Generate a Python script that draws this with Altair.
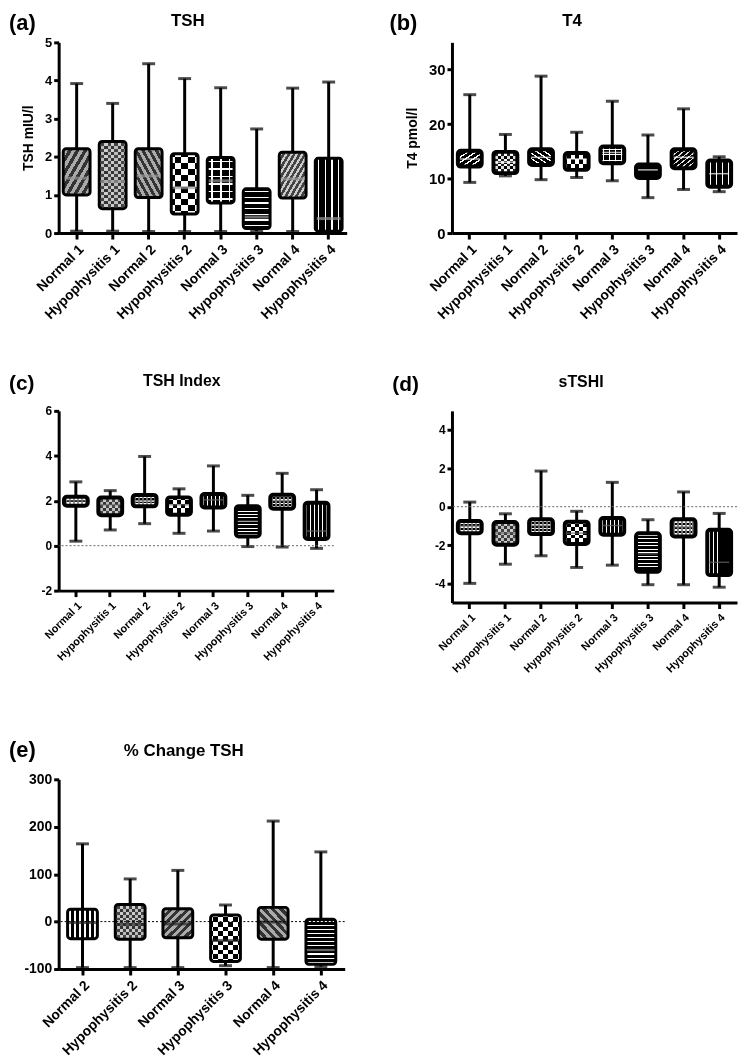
import altair as alt
import pandas as pd

GROUPS8 = ["Normal 1", "Hypophysitis 1", "Normal 2", "Hypophysitis 2",
           "Normal 3", "Hypophysitis 3", "Normal 4", "Hypophysitis 4"]
GROUPS6 = GROUPS8[2:]

# (a) TSH mIU/l : min, Q1, median, Q3, max
TSH_LO = [0.05, 0.05, 0.04, 0.04, 0.04, 0.05, 0.04, 0.02]
TSH_Q1 = [1.00, 0.64, 0.93, 0.50, 0.79, 0.12, 0.92, 0.05]
TSH_MED = [1.44, 1.35, 1.50, 1.19, 1.37, 0.42, 1.42, 0.38]
TSH_Q3 = [2.21, 2.40, 2.21, 2.08, 1.98, 1.16, 2.12, 1.96]
TSH_HI = [3.92, 3.40, 4.44, 4.05, 3.81, 2.73, 3.80, 3.96]

# (b) T4 pmol/l
T4_LO = [9.3, 10.5, 9.8, 10.2, 9.6, 6.5, 8.0, 7.6]
T4_Q1 = [12.2, 11.0, 12.5, 11.6, 12.8, 10.1, 11.9, 8.5]
T4_MED = [13.6, 13.0, 13.9, 13.6, 14.8, 11.6, 13.9, 10.9]
T4_Q3 = [15.1, 14.9, 15.4, 14.7, 15.9, 12.6, 15.4, 13.3]
T4_HI = [25.4, 18.1, 28.8, 18.5, 24.2, 18.0, 22.8, 14.0]

# (c) TSH Index
TI_LO = [0.20, 0.70, 0.98, 0.55, 0.65, -0.04, -0.06, -0.12]
TI_Q1 = [1.78, 1.35, 1.75, 1.38, 1.70, 0.41, 1.64, 0.30]
TI_MED = [2.00, 1.82, 2.00, 1.82, 2.04, 1.09, 2.00, 0.65]
TI_Q3 = [2.18, 2.14, 2.26, 2.15, 2.30, 1.76, 2.27, 1.91]
TI_HI = [2.84, 2.45, 3.97, 2.53, 3.55, 2.24, 3.22, 2.49]

# (d) sTSHI
ST_LO = [-4.00, -3.00, -2.56, -3.17, -3.05, -4.07, -4.07, -4.20]
ST_Q1 = [-1.38, -1.99, -1.43, -1.95, -1.46, -3.40, -1.55, -3.57]
ST_MED = [-1.01, -1.38, -0.98, -1.38, -0.98, -2.46, -1.06, -2.90]
ST_Q3 = [-0.75, -0.80, -0.66, -0.78, -0.59, -1.39, -0.66, -1.20]
ST_HI = [0.24, -0.37, 1.86, -0.24, 1.27, -0.68, 0.77, -0.35]

# (e) % Change TSH
PC_LO = [-97, -97, -97, -93, -97, -95]
PC_Q1 = [-36, -37, -34, -84, -37, -90]
PC_MED = [-2, -6, -5, -40, -1, -60]
PC_Q3 = [26, 36, 27, 14, 30, 5]
PC_HI = [164, 90, 108, 35, 212, 147]

FONT = "Liberation Sans"
TRANSP = "rgba(255,255,255,0)"

DIRS = {"h": (0, 0, 0, 1), "v": (0, 0, 1, 0), "/": (0, 0, 1, 1), "\\": (1, 0, 0, 1)}


def stops(c1, c2, n, f):
    w = (1 - f) / n
    out = [{"offset": 0, "color": c1}]
    for i in range(n):
        c = (i + 0.5) / n
        a = round(max(c - w / 2, 0), 4)
        b = round(min(c + w / 2, 1), 4)
        out += [{"offset": a, "color": c1}, {"offset": a, "color": c2},
                {"offset": b, "color": c2}, {"offset": b, "color": c1}]
    out.append({"offset": 1, "color": c1})
    return out


def grad(d, c1, c2, n, f):
    x1, y1, x2, y2 = DIRS[d]
    return {"gradient": "linear", "x1": x1, "y1": y1, "x2": x2, "y2": y2,
            "stops": stops(c1, c2, n, f)}


def pattern_fills(spec, w, h):
    kind = spec[0]
    if kind == "solid":
        return [(spec[1], None)]
    if kind in ("h", "v"):
        _, c1, c2, p, f = spec
        L = h if kind == "h" else w
        n = max(1, round(L / p))
        return [(grad(kind, c1, c2, n, f), None)]
    if kind.startswith("diag"):
        _, c1, c2, p, f = spec
        n = max(2, round((w + h) / (1.414 * p)))
        d = "/" if kind == "diag/" else "\\"
        return [(grad(d, c1, c2, n, f), None)]
    if kind == "checker":
        _, c1, c2, cell = spec
        nv = max(1, round(w / (2 * cell)))
        nh = max(1, round(h / (2 * cell)))
        return [(grad("v", c1, c2, nv, 0.5), None),
                (grad("h", TRANSP, "white", nh, 0.5), "difference")]
    if kind == "grid":
        _, c1, c2, cell, lw = spec
        nv = max(1, round(w / cell))
        nh = max(1, round(h / cell))
        return [(c1, None),
                (grad("v", TRANSP, c2, nv, 1 - lw / cell), None),
                (grad("h", TRANSP, c2, nh, 1 - lw / cell), None)]
    return [("black", None)]


PAT_A = [("diag/", "#333", "#aaa", 7, 0.5), ("checker", "#333", "#bbb", 3),
         ("diag\\", "#333", "#aaa", 7, 0.5), ("checker", "black", "white", 6),
         ("grid", "black", "white", 8, 1.5), ("h", "black", "white", 6, 0.75),
         ("diag/", "#444", "#ccc", 5, 0.55), ("v", "black", "white", 7, 0.8)]
PAT_B = [("diag/", "black", "white", 5, 0.7), ("checker", "black", "#ddd", 3),
         ("diag\\", "black", "white", 5, 0.7), ("checker", "black", "white", 4),
         ("grid", "black", "white", 6, 1.2), ("solid", "black"),
         ("diag/", "black", "#ddd", 4, 0.7), ("v", "black", "white", 6, 0.8)]
PAT_C = [("checker", "black", "#666", 2), ("checker", "#333", "#bbb", 3),
         ("checker", "black", "#666", 2), ("checker", "black", "white", 4),
         ("v", "black", "white", 4, 0.8), ("h", "black", "white", 3.5, 0.7),
         ("checker", "black", "#777", 2), ("v", "black", "white", 4, 0.85)]
PAT_E = [("v", "black", "white", 5, 0.75), ("checker", "#333", "#bbb", 3),
         ("diag/", "#333", "#aaa", 6, 0.5), ("checker", "black", "white", 5),
         ("diag\\", "#333", "#aaa", 6, 0.5), ("h", "black", "white", 4, 0.7)]

LABEL_EXPR = "datum.value < 0 ? '-' + format(-datum.value, 'd') : format(datum.value, 'd')"


def panel(groups, lo, q1, md, q3, hi, *, width, height, domain, ticks, ytitle,
          barsize, stroke_w, patterns, median_color, median_w, tag, title,
          tag_pos, title_pos, tag_size, title_size, xlab_size, ylab_size,
          zero_line, zero_color):
    df = pd.DataFrame({"group": groups, "lo": lo, "q1": q1, "med": md,
                       "q3": q3, "hi": hi})
    span = domain[1] - domain[0]
    x = alt.X("group:N", sort=groups,
              scale=alt.Scale(domain=groups, paddingInner=0, paddingOuter=0),
              axis=alt.Axis(labelAngle=-45, labelAlign="right", labelBaseline="top",
                            labelFontSize=xlab_size, labelOverlap=False,
                            labelPadding=3, tickSize=6),
              title=None)

    def y(field):
        ax = alt.Axis(values=ticks, labelFontSize=ylab_size, tickSize=5,
                      labelPadding=2, titleFontSize=14, titlePadding=9,
                      labelExpr=LABEL_EXPR)
        return alt.Y(f"{field}:Q",
                     scale=alt.Scale(domain=domain, nice=False, zero=False),
                     axis=ax, title=ytitle)

    base = alt.Chart(df)
    layers = [
        base.mark_rule(color="black", strokeWidth=3).encode(x=x, y=y("lo"), y2="hi"),
        base.mark_tick(color="black", size=13, thickness=3).encode(x=x, y=y("lo")),
        base.mark_tick(color="black", size=13, thickness=3).encode(x=x, y=y("hi")),
    ]
    for i, g in enumerate(groups):
        h_px = (q3[i] - q1[i]) / span * height
        for fill, blend in pattern_fills(patterns[i], barsize, h_px):
            kw = dict(size=barsize, fill=fill, strokeWidth=0, cornerRadius=2)
            if blend:
                kw["blend"] = blend
            layers.append(base.transform_filter(alt.datum.group == g)
                          .mark_bar(**kw).encode(x=x, y=y("q1"), y2="q3"))
    layers.append(base.mark_bar(size=barsize, fill="transparent", stroke="black",
                                strokeWidth=stroke_w, cornerRadius=3)
                  .encode(x=x, y=y("q1"), y2="q3"))
    layers.append(base.mark_tick(size=barsize - stroke_w, thickness=median_w,
                                 color=median_color).encode(x=x, y=y("med")))
    if zero_line:
        layers.append(alt.Chart(pd.DataFrame({"z": [0]}))
                      .mark_rule(color=zero_color, strokeWidth=1, strokeDash=[2, 2])
                      .encode(y=y("z")))
    layers.append(alt.Chart(pd.DataFrame({"t": [tag]}))
                  .mark_text(align="left", baseline="middle", font=FONT,
                             fontWeight="bold", fontSize=tag_size, color="black")
                  .encode(x=alt.value(tag_pos[0]), y=alt.value(tag_pos[1]), text="t:N"))
    layers.append(alt.Chart(pd.DataFrame({"t": [title]}))
                  .mark_text(align="center", baseline="middle", font=FONT,
                             fontWeight="bold", fontSize=title_size, color="black")
                  .encode(x=alt.value(title_pos[0]), y=alt.value(title_pos[1]), text="t:N"))
    return alt.layer(*layers).properties(width=width, height=height)


pa = panel(GROUPS8, TSH_LO, TSH_Q1, TSH_MED, TSH_Q3, TSH_HI, width=290, height=192,
           domain=[0, 5], ticks=[0, 1, 2, 3, 4, 5], ytitle="TSH mIU/l", barsize=27,
           stroke_w=3, patterns=PAT_A, median_color="#999", median_w=3, tag="(a)",
           title="TSH", tag_pos=(-50, -19), title_pos=(130, -21), tag_size=22,
           title_size=17, xlab_size=14, ylab_size=13, zero_line=False, zero_color="black")
pb = panel(GROUPS8, T4_LO, T4_Q1, T4_MED, T4_Q3, T4_HI, width=287, height=192,
           domain=[0, 35], ticks=[0, 10, 20, 30], ytitle="T4 pmol/l", barsize=24,
           stroke_w=4, patterns=PAT_B, median_color="white", median_w=1.5, tag="(b)",
           title="T4", tag_pos=(-63, -19), title_pos=(121, -21), tag_size=22,
           title_size=17, xlab_size=14, ylab_size=15, zero_line=False, zero_color="black")
pc = panel(GROUPS8, TI_LO, TI_Q1, TI_MED, TI_Q3, TI_HI, width=277, height=181,
           domain=[-2, 6], ticks=[-2, 0, 2, 4, 6], ytitle=None, barsize=24,
           stroke_w=4, patterns=PAT_C, median_color="#666", median_w=1.5, tag="(c)",
           title="TSH Index", tag_pos=(-50, -27), title_pos=(124, -30), tag_size=21,
           title_size=16, xlab_size=11, ylab_size=12, zero_line=True, zero_color="#666")
pd_ = panel(GROUPS8, ST_LO, ST_Q1, ST_MED, ST_Q3, ST_HI, width=287, height=193,
            domain=[-5, 5], ticks=[-4, -2, 0, 2, 4], ytitle=None, barsize=24,
            stroke_w=4, patterns=PAT_C, median_color="#666", median_w=1.5, tag="(d)",
            title="sTSHI", tag_pos=(-60, -26), title_pos=(130, -29), tag_size=21,
            title_size=16, xlab_size=11, ylab_size=12, zero_line=True, zero_color="#666")
pe = panel(GROUPS6, PC_LO, PC_Q1, PC_MED, PC_Q3, PC_HI, width=288, height=191,
           domain=[-100, 300], ticks=[-100, 0, 100, 200, 300], ytitle=None, barsize=30,
           stroke_w=3, patterns=PAT_E, median_color="#222", median_w=3, tag="(e)",
           title="% Change TSH", tag_pos=(-50, -29), title_pos=(126, -28), tag_size=22,
           title_size=17, xlab_size=14, ylab_size=14, zero_line=True, zero_color="black")

chart = alt.concat(pa, pb, pc, pd_, pe, columns=2,
                   spacing={"row": 178, "column": 106},
                   bounds="flush", align="all").properties(padding=0)
chart = chart.configure_axis(
    domainColor="black", domainWidth=3, tickColor="black", tickWidth=3,
    labelColor="black", labelFont=FONT, labelFontWeight="bold",
    titleFont=FONT, titleFontWeight="bold", titleColor="black", grid=False
).configure_view(stroke="transparent")

chart.save("out.html", embed_options={"renderer": "svg", "actions": False})
